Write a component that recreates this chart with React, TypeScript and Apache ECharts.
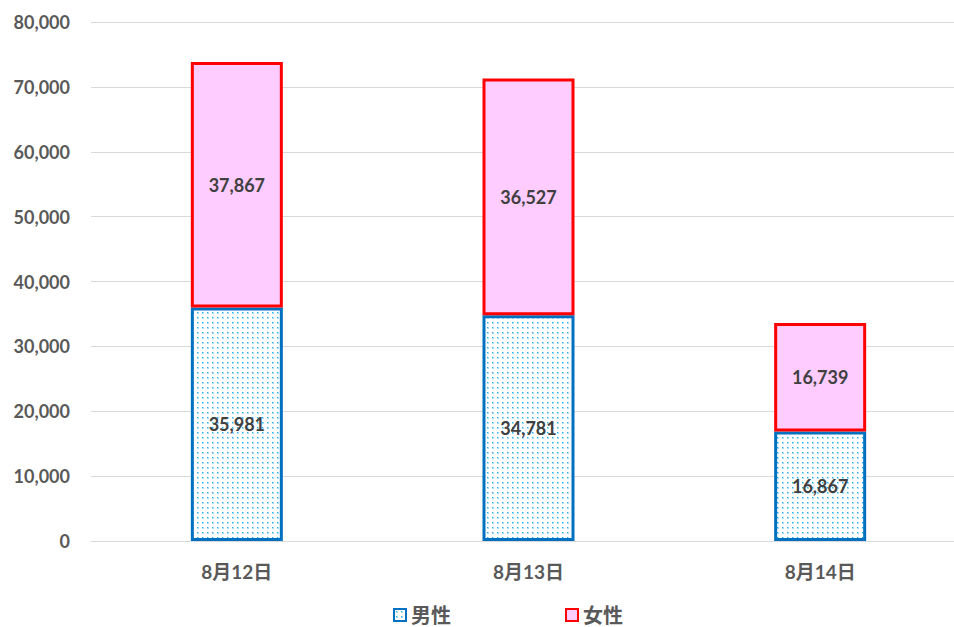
import React, { useEffect, useRef } from "react";
import * as echarts from "echarts";

const categories = ["8月12日", "8月13日", "8月14日"];
const maleValues = [35981, 34781, 16867];
const femaleValues = [37867, 36527, 16739];
const seriesNames = ["男性", "女性"];
const yTicks = { min: 0, max: 80000, interval: 10000 };

function makeDots(): string {
  const c = document.createElement("canvas");
  c.width = 5;
  c.height = 5;
  const ctx = c.getContext("2d")!;
  ctx.fillStyle = "#ffffff";
  ctx.fillRect(0, 0, 5, 5);
  ctx.fillStyle = "#a6def7";
  ctx.fillRect(2, 2, 2, 2);
  ctx.fillStyle = "#22aee9";
  ctx.fillRect(2, 2, 1, 1);
  return c.toDataURL();
}

const FONT = "Lato, 'Noto Sans CJK JP', sans-serif";

export default function App() {
  const ref = useRef<HTMLDivElement>(null);
  useEffect(() => {
    if (!ref.current) return;
    const chart = echarts.init(ref.current, undefined, { renderer: "svg" });
    const dots = makeDots();
    const fmt = (v: number) => v.toLocaleString("en-US");
    const labelStyle = {
      show: true,
      position: "inside",
      fontFamily: FONT,
      fontSize: 18,
      fontWeight: "bold",
      color: "#404040",
      formatter: (p: any) => fmt(p.value),
    };
    chart.setOption({
      animation: false,
      backgroundColor: "#ffffff",
      grid: { left: 91, top: 22, right: 0, bottom: 86 },
      legend: {
        left: 388,
        top: 599,
        itemWidth: 12,
        itemHeight: 12,
        itemGap: 114,
        icon: "rect",
        textStyle: { fontFamily: FONT, fontSize: 20, lineHeight: 22, color: "#595959", fontWeight: "bold" },
        data: seriesNames,
      },
      xAxis: {
        type: "category",
        data: categories,
        axisLine: { lineStyle: { color: "#D9D9D9", width: 1 } },
        axisTick: { show: false },
        axisLabel: { fontFamily: FONT, fontSize: 19, fontWeight: "bold", color: "#595959", margin: 21 },
      },
      yAxis: {
        type: "value",
        min: yTicks.min,
        max: yTicks.max,
        interval: yTicks.interval,
        axisLine: { show: false },
        axisTick: { show: false },
        splitLine: { lineStyle: { color: "#D9D9D9", width: 1 } },
        axisLabel: {
          fontFamily: FONT,
          fontSize: 18,
          fontWeight: "bold",
          color: "#595959",
          margin: 21,
          formatter: (v: number) => fmt(v),
        },
      },
      series: [
        {
          name: seriesNames[0],
          type: "bar",
          stack: "total",
          barWidth: 92,
          data: maleValues,
          itemStyle: {
            color: { image: dots, repeat: "repeat" },
            borderColor: "#0070C0",
            borderWidth: 3,
          },
          label: labelStyle,
        },
        {
          name: seriesNames[1],
          type: "bar",
          stack: "total",
          barWidth: 92,
          data: femaleValues,
          itemStyle: {
            color: "#FFCCFF",
            borderColor: "#FF0000",
            borderWidth: 3,
          },
          label: labelStyle,
        },
      ],
    });
    return () => chart.dispose();
  }, []);
  return (
    <div style={{ position: "absolute", left: 0, top: 0, width: 954, height: 627, overflow: "hidden" }}>
      <div ref={ref} style={{ position: "absolute", left: 0, top: 0, width: 966, height: 627 }} />
    </div>
  );
}
